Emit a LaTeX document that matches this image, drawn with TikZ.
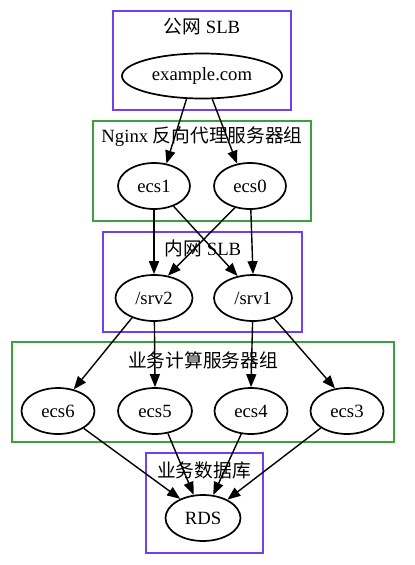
\documentclass[tikz,border=0pt]{standalone}
\usepackage{fontspec}
\setmainfont{Liberation Serif}
\newfontfamily\cjk{Noto Sans CJK SC}
\usetikzlibrary{shapes.geometric,arrows.meta}
\definecolor{clpurple}{RGB}{112,64,240}
\definecolor{clgreen}{RGB}{60,160,60}
\begin{document}
\begin{tikzpicture}[x=1pt,y=-1pt,
  every node/.style={font=\fontsize{18.7}{22}\selectfont},
  nd/.style={draw,ellipse,line width=1.7pt,inner sep=0pt,minimum width=72pt,minimum height=46pt},
  ttl/.style={inner sep=0pt,anchor=center},
  cl/.style={line width=1.6pt},
  edge/.style={line width=1.4pt,-{Triangle[length=13pt,width=10pt]}}]
\useasboundingbox (0,0) rectangle (415,565);
\fill[white] (0,0) rectangle (415,565);
% clusters
\draw[cl,clpurple] (113,11) rectangle (291,110);
\node[ttl] (t1) at (202,27) {{\cjk 公网} SLB};
\draw[cl,clgreen] (93,121) rectangle (311,221);
\node[ttl] (t2) at (202,137) {Nginx {\cjk 反向代理服务器组}};
\draw[cl,clpurple] (103,232) rectangle (302,332);
\node[ttl] (t3) at (203,248) {{\cjk 内网} SLB};
\draw[cl,clgreen] (12,342) rectangle (394,442);
\node[ttl] (t4) at (203,360) {{\cjk 业务计算服务器组}};
\draw[cl,clpurple] (146,453) rectangle (263,553);
\node[ttl] (t5) at (204,470) {{\cjk 业务数据库}};
% nodes
\node[nd,minimum width=160pt,minimum height=45pt] (ex) at (202,76) {example.com};
\node[nd] (ecs1) at (154,186) {ecs1};
\node[nd] (ecs0) at (250,186) {ecs0};
\node[nd,minimum width=77pt] (srv2) at (154,298) {/srv2};
\node[nd,minimum width=78pt] (srv1) at (253,298) {/srv1};
\node[nd,minimum width=73pt] (ecs6) at (58,411) {ecs6};
\node[nd,minimum width=74pt] (ecs5) at (155,411) {ecs5};
\node[nd,minimum width=73pt] (ecs4) at (251,411) {ecs4};
\node[nd,minimum width=73pt] (ecs3) at (347,411) {ecs3};
\node[nd,minimum width=75pt] (rds) at (203,518) {RDS};
% edges
\draw[edge] (ex.-124) -- (ecs1.61);
\draw[edge] (ex.-66) -- (ecs0.120);
\draw[edge] (ecs1.south) -- (srv2.north);
\draw[edge] (ecs1.-46) -- (srv1.125);
\draw[edge] (ecs0.-125) -- (srv2.58);
\draw[edge] (ecs0.-88) -- (srv1.north);
\draw[edge] (srv2.-138) -- (ecs6.54);
\draw[edge] (srv2.-89) -- (ecs5.north);
\draw[edge] (srv1.-91) -- (ecs4.north);
\draw[edge] (srv1.-44) -- (ecs3.118);
\draw[edge] (ecs6.-34) -- (rds.140);
\draw[edge] (ecs5.-60) -- (rds.112);
\draw[edge] (ecs4.-113) -- (rds.66);
\draw[edge] (ecs3.-147) -- (rds.37);
\end{tikzpicture}
\end{document}
